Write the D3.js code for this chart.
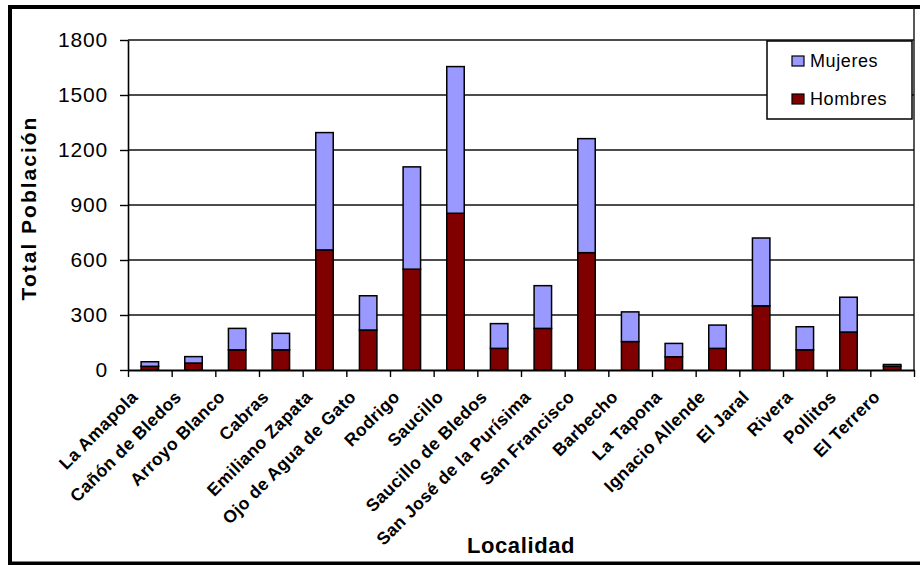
<!DOCTYPE html>
<html>
<head>
<meta charset="utf-8">
<script src="https://cdn.jsdelivr.net/npm/d3@7"></script>
<style>
  html, body { margin: 0; padding: 0; background: #fff; }
  svg { display: block; }
  svg text { font-family: "Liberation Sans", Arial, sans-serif; }
</style>
</head>
<body>
<svg id="chart" width="920" height="565"></svg>
<script>
// Población por localidad, desglosada por sexo
const localidades = [
  "La Amapola", "Cañón de Bledos", "Arroyo Blanco", "Cabras", "Emiliano Zapata",
  "Ojo de Agua de Gato", "Rodrigo", "Saucillo", "Saucillo de Bledos",
  "San José de la Purísima", "San Francisco", "Barbecho", "La Tapona",
  "Ignacio Allende", "El Jaral", "Rivera", "Pollitos", "El Terrero"
];
const hombres = [20, 38, 110, 110, 655, 218, 550, 855, 118, 227, 640, 155, 72, 118, 350, 110, 207, 20];
const mujeres = [25, 35, 117, 90, 640, 187, 558, 800, 135, 233, 622, 162, 73, 127, 370, 126, 190, 10];
const yTicks = [0, 300, 600, 900, 1200, 1500, 1800];
const serieNombres = ["Mujeres", "Hombres"];
const serieColores = { Hombres: "#800000", Mujeres: "#9999ff" };

const FONT = "'Liberation Sans', Arial, sans-serif";
const svg = d3.select("#chart");
const plot = { left: 128, right: 914, top: 40, bottom: 370 };

// Outer frame
svg.append("rect")
  .attr("x", 10).attr("y", 7)
  .attr("width", 930).attr("height", 556.5)
  .attr("fill", "none").attr("stroke", "#000").attr("stroke-width", 4);

const x = d3.scaleBand()
  .domain(localidades)
  .range([plot.left, plot.right])
  .paddingInner(0.6)
  .paddingOuter(0.3);

const y = d3.scaleLinear()
  .domain([0, 1800])
  .range([plot.bottom, plot.top]);

// Horizontal gridlines
svg.append("g")
  .selectAll("line")
  .data(yTicks.filter(t => t > 0))
  .join("line")
  .attr("x1", plot.left).attr("x2", plot.right)
  .attr("y1", d => y(d)).attr("y2", d => y(d))
  .attr("stroke", "#111").attr("stroke-width", 1.4);

// Right edge of the plot area
svg.append("line")
  .attr("x1", plot.right).attr("x2", plot.right)
  .attr("y1", 7).attr("y2", plot.bottom)
  .attr("stroke", "#111").attr("stroke-width", 1.4);

// Stacked bars: hombres at the bottom, mujeres on top
const filas = localidades.map((l, i) => ({ localidad: l, Hombres: hombres[i], Mujeres: mujeres[i] }));
const capas = d3.stack().keys(["Hombres", "Mujeres"])(filas);

svg.append("g")
  .selectAll("g")
  .data(capas)
  .join("g")
  .attr("fill", d => serieColores[d.key])
  .selectAll("rect")
  .data(d => d)
  .join("rect")
  .attr("x", d => x(d.data.localidad))
  .attr("width", x.bandwidth())
  .attr("y", d => y(d[1]))
  .attr("height", d => y(d[0]) - y(d[1]))
  .attr("stroke", "#000")
  .attr("stroke-width", 1.5);

// Y axis
const yAxis = svg.append("g")
  .attr("transform", `translate(${plot.left},0)`)
  .call(d3.axisLeft(y).tickValues(yTicks).tickFormat(d3.format("d"))
    .tickSize(8).tickPadding(12).tickSizeOuter(0));
yAxis.attr("font-family", null).attr("font-size", null);
yAxis.select(".domain").attr("stroke", "#000").attr("stroke-width", 1.6);
yAxis.selectAll(".tick line").attr("stroke", "#000").attr("stroke-width", 1.4);
yAxis.selectAll(".tick text")
  .style("font-family", FONT)
  .style("font-size", "21px")
  .attr("letter-spacing", 0.8)
  .attr("fill", "#000");

// X axis with ticks on category boundaries
const xb = d3.scaleLinear().domain([0, localidades.length]).range([plot.left, plot.right]);
const xAxis = svg.append("g")
  .attr("transform", `translate(0,${plot.bottom})`)
  .call(d3.axisBottom(xb).tickValues(d3.range(localidades.length + 1))
    .tickSize(7).tickFormat("").tickSizeOuter(0));
xAxis.select(".domain").attr("stroke", "#000").attr("stroke-width", 1.8);
xAxis.selectAll(".tick line").attr("stroke", "#000").attr("stroke-width", 1.4);

// Category labels, rotated
svg.append("g")
  .selectAll("text")
  .data(localidades)
  .join("text")
  .attr("transform", d => `translate(${x(d) + x.bandwidth() / 2 - 11},${398}) rotate(-45)`)
  .attr("text-anchor", "end")
  .style("font-family", FONT)
  .style("font-size", "17.5px")
  .attr("font-weight", "bold")
  .attr("letter-spacing", 0.4)
  .text(d => d);

// Axis titles
svg.append("text")
  .attr("transform", `translate(36,${208}) rotate(-90)`)
  .attr("text-anchor", "middle")
  .style("font-family", FONT)
  .style("font-size", "21px")
  .attr("font-weight", "bold")
  .attr("letter-spacing", 2)
  .text("Total Población");

svg.append("text")
  .attr("x", (plot.left + plot.right) / 2)
  .attr("y", 553)
  .attr("text-anchor", "middle")
  .style("font-family", FONT)
  .style("font-size", "22px")
  .attr("font-weight", "bold")
  .attr("letter-spacing", 0.6)
  .text("Localidad");

// Legend
const leg = svg.append("g");
leg.append("rect")
  .attr("x", 767).attr("y", 41)
  .attr("width", 145).attr("height", 78)
  .attr("fill", "#fff").attr("stroke", "#000").attr("stroke-width", 1.5);
const items = leg.selectAll("g.item")
  .data(serieNombres)
  .join("g")
  .attr("class", "item")
  .attr("transform", (d, i) => `translate(792,${56 + i * 38})`);
items.append("rect")
  .attr("width", 12).attr("height", 10)
  .attr("fill", d => serieColores[d])
  .attr("stroke", "#000").attr("stroke-width", 1.2);
items.append("text")
  .attr("x", 18).attr("y", 11)
  .style("font-family", FONT)
  .style("font-size", "18px")
  .attr("letter-spacing", 0.6)
  .text(d => d);
</script>
</body>
</html>
